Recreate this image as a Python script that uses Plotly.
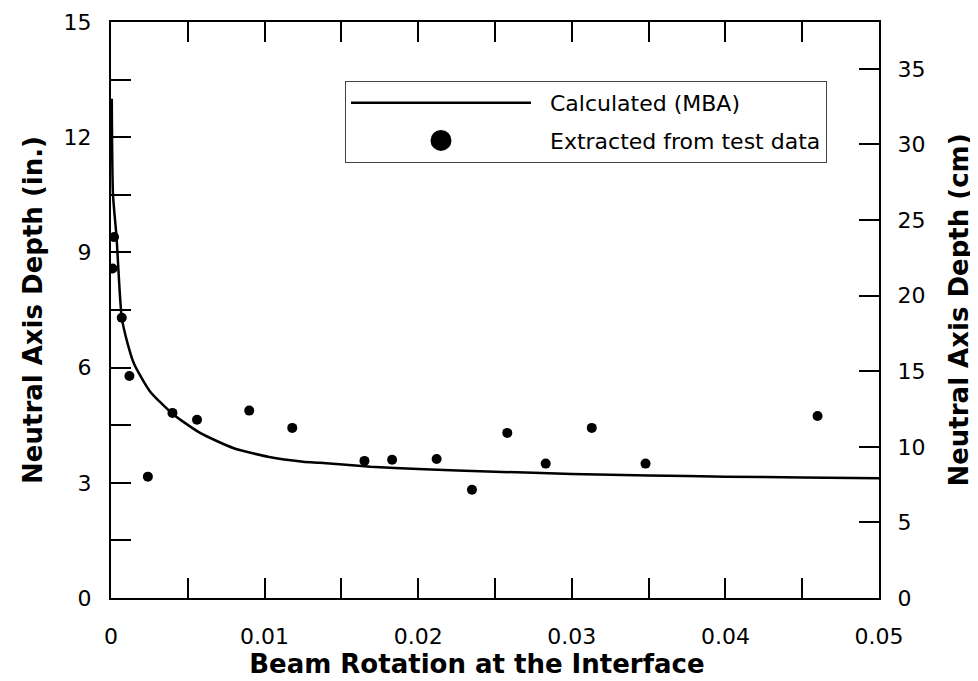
import plotly.graph_objects as go

# Calculated (MBA) curve
calc_rotation = [0.00005, 0.00013, 0.00036, 0.0007, 0.0011, 0.0015, 0.0025, 0.004,
                 0.0058, 0.008, 0.0103, 0.0125, 0.0136, 0.0169, 0.020, 0.025,
                 0.030, 0.035, 0.040, 0.045, 0.050]
calc_depth_in = [13.0, 10.5, 9.4, 7.3, 6.6, 6.1, 5.4, 4.8,
                 4.3, 3.9, 3.67, 3.55, 3.52, 3.42, 3.36, 3.29,
                 3.23, 3.19, 3.16, 3.14, 3.12]

# Extracted from test data
test_rotation = [0.0002, 0.0001, 0.0007, 0.0012, 0.0024, 0.0040, 0.0056, 0.0090,
                 0.0118, 0.0165, 0.0183, 0.0212, 0.0235, 0.0258, 0.0283, 0.0313,
                 0.0348, 0.0460]
test_depth_in = [9.40, 8.58, 7.30, 5.78, 3.16, 4.82, 4.64, 4.88,
                 4.43, 3.57, 3.60, 3.62, 2.82, 4.30, 3.50, 4.43,
                 3.50, 4.74]

x_tickvals = [0, 0.005, 0.01, 0.015, 0.02, 0.025, 0.03, 0.035, 0.04, 0.045, 0.05]
x_ticktext = ["0", "", "0.01", "", "0.02", "", "0.03", "", "0.04", "", "0.05"]
y_tickvals = [0, 1.5, 3, 4.5, 6, 7.5, 9, 10.5, 12, 13.5, 15]
y_ticktext = ["0", "", "3", "", "6", "", "9", "", "12", "", "15"]
y2_tickvals = [0, 5, 10, 15, 20, 25, 30, 35]
y2_ticktext = ["0", "5", "10", "15", "20", "25", "30", "35"]
y_range_in = [0, 15]
y_range_cm = [0, 15 * 2.54]

TICK_FONT = dict(family="DejaVu Sans", size=22, color="black")
TITLE_FONT = dict(family="DejaVu Sans", size=26, color="black")
NB = "\u00a0\u00a0"

fig = go.Figure()

fig.add_trace(go.Scatter(
    x=calc_rotation, y=calc_depth_in, mode="lines",
    line=dict(color="black", width=2.5, shape="spline", smoothing=0.6),
    name=NB + "Calculated (MBA)", legendgroup="a", showlegend=True,
))
fig.add_trace(go.Scatter(
    x=test_rotation, y=test_depth_in, mode="markers",
    marker=dict(color="black", size=10),
    name="Extracted from test data", showlegend=False,
))
# legend entry with a large dot
fig.add_trace(go.Scatter(
    x=[None], y=[None], mode="markers",
    marker=dict(color="black", size=30, line=dict(color="black", width=5)),
    name=NB + "Extracted from test data", legendgroup="b", showlegend=True,
))
# secondary (cm) axis
fig.add_trace(go.Scatter(x=[None], y=[None], yaxis="y2", showlegend=False,
                         mode="markers", hoverinfo="skip"))

fig.update_layout(
    width=970, height=673,
    margin=dict(l=103, r=99, t=14, b=83, autoexpand=False),
    paper_bgcolor="white", plot_bgcolor="white",
    showlegend=True,
    legend=dict(
        x=(345 - 111) / 768, y=(598 - 81) / 576, xanchor="left", yanchor="top",
        bgcolor="white", bordercolor="#444444", borderwidth=1,
        font=dict(family="DejaVu Sans", size=22, color="black"),
        itemwidth=180, tracegroupgap=6, traceorder="grouped",
    ),
    xaxis=dict(
        range=[0, 0.05], tickvals=x_tickvals, ticktext=x_ticktext,
        ticks="inside", ticklen=20, tickwidth=2, tickcolor="black",
        showline=True, linewidth=2, linecolor="black", mirror="ticks",
        showgrid=False, zeroline=False, tickfont=TICK_FONT,
        ticklabelstandoff=18,
        title=dict(text="<b>Beam Rotation at the Interface\u00a0\u00a0\u00a0\u00a0</b>",
                   font=TITLE_FONT, standoff=1),
    ),
    yaxis=dict(
        range=y_range_in, tickvals=y_tickvals, ticktext=y_ticktext,
        ticks="inside", ticklen=20, tickwidth=2, tickcolor="black",
        showline=True, linewidth=2, linecolor="black", mirror=False,
        showgrid=False, zeroline=False, tickfont=TICK_FONT,
        ticklabelstandoff=13,
        title=dict(text="<b>Neutral Axis Depth (in.)</b>", font=TITLE_FONT, standoff=13),
    ),
    yaxis2=dict(
        range=y_range_cm, tickvals=y2_tickvals, ticktext=y2_ticktext,
        overlaying="y", side="right", anchor="x",
        ticks="inside", ticklen=20, tickwidth=2, tickcolor="black",
        showline=True, linewidth=2, linecolor="black",
        showgrid=False, zeroline=False, tickfont=TICK_FONT,
        ticklabelstandoff=12,
        title=dict(text="<b>Neutral Axis Depth (cm)</b>", font=TITLE_FONT, standoff=25),
    ),
)

fig.write_html("out.html")
